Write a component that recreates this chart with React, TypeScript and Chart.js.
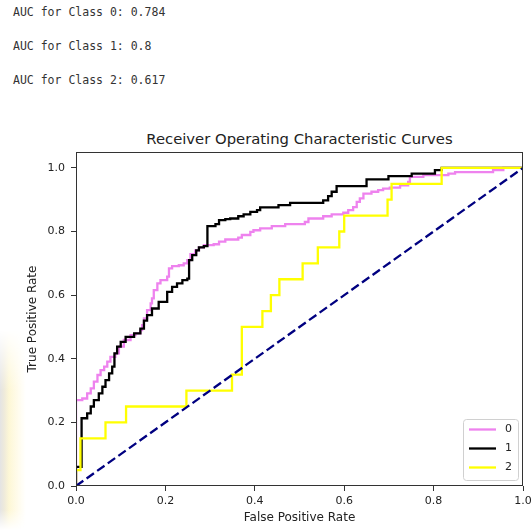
import React, { useEffect, useRef } from "react";
import { Chart, registerables } from "chart.js";

Chart.register(...registerables);

const aucLines = ["AUC for Class 0: 0.784", "AUC for Class 1: 0.8", "AUC for Class 2: 0.617"];
const chartTitle = "Receiver Operating Characteristic Curves";
const xLabel = "False Positive Rate";
const yLabel = "True Positive Rate";
const classLabels = ["0", "1", "2"];
const classColors = ["#EE82EE", "#000000", "#FFFF00"];
const chanceColor = "#000080";
const xTicks = [0, 0.2, 0.4, 0.6, 0.8, 1.0];
const yTicks = [0, 0.2, 0.4, 0.6, 0.8, 1.0];

// Class 0 ROC (violet)
const fpr0 = [0, 0, 0.014, 0.025, 0.033, 0.040, 0.048, 0.055, 0.063, 0.070, 0.077, 0.088, 0.096, 0.107, 0.122, 0.133, 0.144, 0.148, 0.152, 0.159, 0.167, 0.170, 0.174, 0.182, 0.189, 0.204, 0.208, 0.215, 0.230, 0.241, 0.249, 0.256, 0.267, 0.275, 0.286, 0.308, 0.320, 0.334, 0.363, 0.371, 0.390, 0.397, 0.412, 0.438, 0.468, 0.512, 0.520, 0.553, 0.572, 0.598, 0.609, 0.620, 0.628, 0.635, 0.643, 0.661, 0.676, 0.687, 0.702, 0.725, 0.743, 0.747, 0.777, 0.833, 0.848, 0.933, 0.956, 1.0];
const tpr0 = [0, 0.27, 0.275, 0.291, 0.307, 0.328, 0.349, 0.364, 0.375, 0.391, 0.406, 0.417, 0.438, 0.459, 0.474, 0.48, 0.49, 0.506, 0.527, 0.553, 0.574, 0.59, 0.616, 0.637, 0.647, 0.658, 0.684, 0.691, 0.694, 0.70, 0.71, 0.729, 0.741, 0.75, 0.757, 0.76, 0.768, 0.775, 0.781, 0.789, 0.799, 0.804, 0.81, 0.817, 0.823, 0.83, 0.841, 0.848, 0.854, 0.859, 0.867, 0.877, 0.893, 0.904, 0.919, 0.925, 0.93, 0.935, 0.938, 0.945, 0.956, 0.972, 0.977, 0.982, 0.987, 0.993, 1.0, 1.0];

// Class 1 ROC (black)
const fpr1 = [0, 0, 0.0125, 0.025, 0.033, 0.040, 0.051, 0.059, 0.066, 0.074, 0.081, 0.086, 0.092, 0.10, 0.111, 0.13, 0.144, 0.152, 0.159, 0.170, 0.185, 0.204, 0.215, 0.226, 0.238, 0.249, 0.253, 0.260, 0.269, 0.275, 0.286, 0.294, 0.312, 0.320, 0.334, 0.345, 0.363, 0.375, 0.390, 0.405, 0.412, 0.453, 0.479, 0.553, 0.564, 0.572, 0.583, 0.650, 0.699, 0.751, 0.803, 0.818, 1.0];
const tpr1 = [0, 0.06, 0.213, 0.228, 0.25, 0.27, 0.291, 0.312, 0.333, 0.354, 0.375, 0.417, 0.438, 0.453, 0.469, 0.48, 0.495, 0.52, 0.537, 0.558, 0.579, 0.61, 0.626, 0.637, 0.647, 0.652, 0.71, 0.726, 0.741, 0.75, 0.754, 0.817, 0.823, 0.836, 0.839, 0.841, 0.848, 0.854, 0.862, 0.867, 0.876, 0.883, 0.89, 0.898, 0.911, 0.925, 0.943, 0.964, 0.974, 0.982, 0.993, 1.0, 1.0];

// Class 2 ROC (yellow)
const fpr2 = [0, 0, 0.01, 0.066, 0.112, 0.247, 0.349, 0.371, 0.417, 0.436, 0.455, 0.507, 0.541, 0.589, 0.6, 0.697, 0.706, 0.818, 1.0];
const tpr2 = [0, 0.05, 0.15, 0.2, 0.25, 0.3, 0.35, 0.5, 0.55, 0.6, 0.65, 0.7, 0.75, 0.8, 0.85, 0.9, 0.95, 1.0, 1.0];

// Chance line
const chanceFpr = [0, 1];
const chanceTpr = [0, 1];

const toPoints = (xs: number[], ys: number[]) => xs.map((x, i) => ({ x, y: ys[i] }));

const frameAndLegend = {
  id: "frameAndLegend",
  afterDatasetsDraw(chart: any) {
    const { ctx, chartArea } = chart;
    ctx.save();
    const l = Math.round(chartArea.left) + 0.5;
    const t = Math.round(chartArea.top) + 0.5;
    const r = Math.round(chartArea.right) - 0.5;
    const b = Math.round(chartArea.bottom) - 0.5;
    ctx.strokeStyle = "#333333";
    ctx.lineWidth = 1;
    ctx.strokeRect(l, t, r - l, b - t);
    const w = 55;
    const h = 61;
    const x0 = Math.round(chartArea.right - 5 - w);
    const y0 = Math.round(chartArea.bottom - 6 - h);
    ctx.fillStyle = "rgba(255,255,255,0.8)";
    ctx.strokeStyle = "#d0d0d0";
    ctx.lineWidth = 1;
    ctx.beginPath();
    ctx.roundRect(x0 + 0.5, y0 + 0.5, w, h, 3);
    ctx.fill();
    ctx.stroke();
    classLabels.forEach((lab, i) => {
      const y = y0 + 10.5 + i * 19;
      ctx.strokeStyle = classColors[i];
      ctx.lineWidth = 2.3;
      ctx.beginPath();
      ctx.moveTo(x0 + 6, y);
      ctx.lineTo(x0 + 33, y);
      ctx.stroke();
      ctx.fillStyle = "#222222";
      ctx.font = '11px "DejaVu Sans"';
      ctx.textBaseline = "middle";
      ctx.textAlign = "left";
      ctx.fillText(lab, x0 + 42, y);
    });
    ctx.restore();
  },
};

export default function App() {
  const canvasRef = useRef<HTMLCanvasElement | null>(null);

  useEffect(() => {
    if (!canvasRef.current) return;
    const lineDs = (label: string, xs: number[], ys: number[], color: string, order: number) => ({
      label,
      data: toPoints(xs, ys),
      borderColor: color,
      backgroundColor: color,
      borderWidth: 2.3,
      pointRadius: 0,
      stepped: "before" as const,
      fill: false,
      order,
    });
    const chart = new Chart(canvasRef.current, {
      type: "line",
      data: {
        datasets: [
          lineDs(classLabels[0], fpr0, tpr0, classColors[0], 3),
          lineDs(classLabels[1], fpr1, tpr1, classColors[1], 2),
          lineDs(classLabels[2], fpr2, tpr2, classColors[2], 1),
          {
            label: "chance",
            data: toPoints(chanceFpr, chanceTpr),
            borderColor: chanceColor,
            borderWidth: 2.3,
            borderDash: [9, 4],
            pointRadius: 0,
            fill: false,
            order: 0,
          } as any,
        ],
      },
      options: {
        animation: false,
        responsive: false,
        devicePixelRatio: 1,
        layout: { padding: { left: 0, right: 8, top: 152, bottom: 0 } },
        plugins: {
          legend: { display: false },
          tooltip: { enabled: false },
          title: { display: false },
        },
        scales: {
          x: {
            type: "linear",
            min: 0,
            max: 1,
            afterBuildTicks: (scale: any) => {
              scale.ticks = xTicks.map((v) => ({ value: v }));
            },
            afterFit: (scale: any) => {
              scale.height = 44;
              scale.paddingLeft = 0;
              scale.paddingRight = 0;
            },
            ticks: {
              callback: (v: any) => Number(v).toFixed(1),
              color: "#222222",
              font: { family: "DejaVu Sans", size: 11 },
              padding: 4,
              maxRotation: 0,
            },
            grid: { display: true, drawOnChartArea: false, drawTicks: true, tickLength: 5, color: "#333333" },
            border: { display: false },
            title: {
              display: true,
              text: xLabel,
              color: "#222222",
              font: { family: "DejaVu Sans", size: 12 },
              padding: { top: 0, bottom: 5 },
            },
          },
          y: {
            type: "linear",
            min: 0,
            max: 1.05,
            afterBuildTicks: (scale: any) => {
              scale.ticks = yTicks.map((v) => ({ value: v }));
            },
            afterFit: (scale: any) => {
              scale.width = 76;
              scale.paddingTop = 0;
              scale.paddingBottom = 0;
            },
            ticks: {
              callback: (v: any) => Number(v).toFixed(1),
              color: "#222222",
              font: { family: "DejaVu Sans", size: 11 },
              padding: 6,
            },
            grid: { display: true, drawOnChartArea: false, drawTicks: true, tickLength: 5, color: "#333333" },
            border: { display: false },
            title: {
              display: true,
              text: yLabel,
              color: "#222222",
              font: { family: "DejaVu Sans", size: 12 },
              padding: { top: 26, bottom: 0 },
            },
          },
        },
      },
      plugins: [frameAndLegend],
    });
    return () => chart.destroy();
  }, []);

  return (
    <div style={{ position: "fixed", left: 0, top: 0, width: 531, height: 530, background: "#ffffff", overflow: "hidden" }}>
      <div
        style={{
          position: "absolute",
          left: 0,
          top: 330,
          width: 26,
          height: 200,
          background: "linear-gradient(to right, #e4e4e4 0px, #eeeadb 4px, #fdf7d6 9px, #fffbea 17px, rgba(255,255,255,0) 26px)",
          WebkitMaskImage: "linear-gradient(to bottom, transparent 0px, black 60px, black 180px, transparent 200px)",
          maskImage: "linear-gradient(to bottom, transparent 0px, black 60px, black 180px, transparent 200px)",
        }}
      />
      {aucLines.map((txt, i) => (
        <div
          key={i}
          style={{
            position: "absolute",
            left: 13,
            top: [11.5, 46, 80][i] - 7,
            height: 14,
            lineHeight: "14px",
            fontFamily: '"DejaVu Sans Mono", monospace',
            fontSize: 11.5,
            color: "#333333",
            whiteSpace: "pre",
          }}
        >
          {txt}
        </div>
      ))}
      <div
        style={{
          position: "absolute",
          left: 76,
          width: 447,
          top: 129.5,
          height: 17,
          lineHeight: "17px",
          textAlign: "center",
          fontFamily: '"DejaVu Sans", sans-serif',
          fontSize: 14.8,
          color: "#222222",
          whiteSpace: "nowrap",
        }}
      >
        {chartTitle}
      </div>
      <canvas ref={canvasRef} width={531} height={530} style={{ position: "absolute", left: 0, top: 0 }} />
    </div>
  );
}
